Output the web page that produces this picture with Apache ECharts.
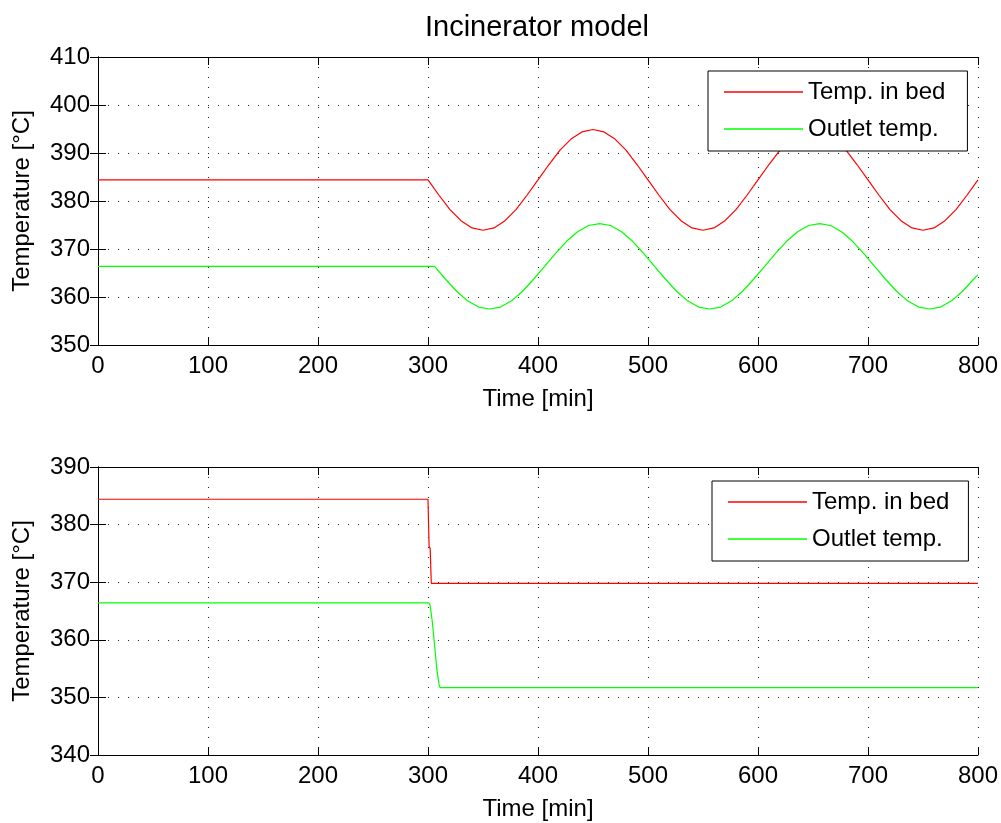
<!DOCTYPE html>
<html>
<head>
<meta charset="utf-8">
<script src="https://cdn.jsdelivr.net/npm/echarts@6/dist/echarts.min.js"></script>
<style>
html,body{margin:0;padding:0;background:#fff;}
#c{width:1001px;height:823px;}
</style>
</head>
<body>
<div id="c"></div>
<script>
// ---- Data ----
const titleText = 'Incinerator model';
const seriesNames = ['Temp. in bed', 'Outlet temp.'];
const xTicks = [0, 100, 200, 300, 400, 500, 600, 700, 800];
const topYTicks = [350, 360, 370, 380, 390, 400, 410];
const bottomYTicks = [340, 350, 360, 370, 380, 390];

// Top plot: temperature in bed
const topBedTime = [0, 300, 310, 320, 330, 340, 350, 360, 370, 380, 390, 400, 410, 420, 430, 440, 450, 460, 470, 480, 490,
  500, 510, 520, 530, 540, 550, 560, 570, 580, 590, 600, 610, 620, 630, 640, 650, 660, 670, 680, 690,
  700, 710, 720, 730, 740, 750, 760, 770, 780, 790, 800];
const topBedTemp = [384.4, 384.4, 381.2, 378.2, 375.9, 374.4, 373.9, 374.4, 375.9, 378.2, 381.2, 384.4, 387.6, 390.6, 392.9, 394.4, 394.9, 394.4, 392.9, 390.6, 387.6,
  384.4, 381.2, 378.2, 375.9, 374.4, 373.9, 374.4, 375.9, 378.2, 381.2, 384.4, 387.6, 390.6, 392.9, 394.4, 394.9, 394.4, 392.9, 390.6, 387.6,
  384.4, 381.2, 378.2, 375.9, 374.4, 373.9, 374.4, 375.9, 378.2, 381.2, 384.4];

// Top plot: outlet temperature
const topOutTime = [0, 306, 316, 326, 336, 346, 356, 366, 376, 386, 396, 406, 416, 426, 436, 446, 456, 466, 476, 486, 496,
  506, 516, 526, 536, 546, 556, 566, 576, 586, 596, 606, 616, 626, 636, 646, 656, 666, 676, 686, 696,
  706, 716, 726, 736, 746, 756, 766, 776, 786, 796, 800];
const topOutTemp = [366.4, 366.4, 363.7, 361.2, 359.2, 357.9, 357.5, 357.9, 359.2, 361.2, 363.7, 366.4, 369.1, 371.6, 373.6, 374.9, 375.3, 374.9, 373.6, 371.6, 369.1,
  366.4, 363.7, 361.2, 359.2, 357.9, 357.5, 357.9, 359.2, 361.2, 363.7, 366.4, 369.1, 371.6, 373.6, 374.9, 375.3, 374.9, 373.6, 371.6, 369.1,
  366.4, 363.7, 361.2, 359.2, 357.9, 357.5, 357.9, 359.2, 361.2, 363.7, 364.6];

// Bottom plot: step response
const botBedTime = [0, 300, 301, 302, 303, 800];
const botBedTemp = [384.4, 384.4, 376.3, 375.8, 369.8, 369.8];
const botOutTime = [0, 301, 302, 304, 306, 308, 310, 311, 800];
const botOutTemp = [366.4, 366.4, 365.9, 363.0, 359.0, 355.0, 352.3, 351.7, 351.7];

// ---- Chart ----
const FONT = 'Liberation Sans, Arial, Helvetica, sans-serif';
const pair = (t, v) => t.map((x, i) => [x, v[i]]);
const gridLine = { show: true, lineStyle: { color: '#222', width: 1, type: [1, 9] } };
const axLine = { show: true, lineStyle: { color: '#000', width: 1 } };

function xMain(gi) {
  return {
    type: 'value', gridIndex: gi, position: 'bottom',
    min: xTicks[0], max: xTicks[xTicks.length - 1], interval: xTicks[1] - xTicks[0],
    name: 'Time [min]', nameLocation: 'middle', nameGap: 42,
    nameTextStyle: { fontFamily: FONT, fontSize: 24, color: '#000' },
    axisLine: axLine,
    axisTick: { show: true, inside: true, length: 8, lineStyle: { color: '#000' } },
    axisLabel: { fontFamily: FONT, fontSize: 24, color: '#000', margin: 9 },
    splitLine: gridLine
  };
}
function xTop(gi) {
  return {
    type: 'value', gridIndex: gi, position: 'top',
    min: xTicks[0], max: xTicks[xTicks.length - 1], interval: xTicks[1] - xTicks[0],
    axisLine: axLine,
    axisTick: { show: true, inside: true, length: 8, lineStyle: { color: '#000' } },
    axisLabel: { show: false }, splitLine: { show: false }
  };
}
function yMain(gi, ticks) {
  return {
    type: 'value', gridIndex: gi, position: 'left',
    min: ticks[0], max: ticks[ticks.length - 1], interval: ticks[1] - ticks[0],
    name: 'Temperature [°C]', nameLocation: 'middle', nameGap: 64, nameRotate: 90,
    nameTextStyle: { fontFamily: FONT, fontSize: 24, color: '#000' },
    axisLine: axLine,
    axisTick: { show: true, inside: true, length: 8, lineStyle: { color: '#000' } },
    axisLabel: { fontFamily: FONT, fontSize: 24, color: '#000', margin: 8 },
    splitLine: gridLine
  };
}
function yRight(gi, ticks) {
  return {
    type: 'value', gridIndex: gi, position: 'right',
    min: ticks[0], max: ticks[ticks.length - 1], interval: ticks[1] - ticks[0],
    axisLine: axLine,
    axisTick: { show: true, inside: true, length: 8, lineStyle: { color: '#000' } },
    axisLabel: { show: false }, splitLine: { show: false }
  };
}
function legendAt(left, top, padRight) {
  return {
    orient: 'vertical', left: left, top: top,
    data: seriesNames,
    icon: 'rect',
    itemWidth: 79, itemHeight: 1.5, itemGap: 13,
    padding: [9, padRight, 10, 16],
    borderColor: '#000', borderWidth: 1, backgroundColor: '#fff',
    textStyle: { fontFamily: FONT, fontSize: 24, color: '#000', lineHeight: 24 },
    selectedMode: false
  };
}
function lineSeries(name, color, xi, yi, data) {
  return {
    name: name, type: 'line', xAxisIndex: xi, yAxisIndex: yi,
    data: data, symbol: 'none', animation: false,
    lineStyle: { color: color, width: 1.2 }, itemStyle: { color: color },
    z: 3
  };
}

const chart = echarts.init(document.getElementById('c'), null, { renderer: 'canvas' });
chart.setOption({
  backgroundColor: '#fff',
  animation: false,
  title: {
    text: titleText, left: 532, top: 8, textAlign: 'center',
    textStyle: { fontFamily: FONT, fontSize: 29, fontWeight: 'normal', color: '#000' }
  },
  grid: [
    { left: 98, top: 57, width: 882, height: 288 },
    { left: 98, top: 467, width: 882, height: 288 }
  ],
  xAxis: [xMain(0), xTop(0), xMain(1), xTop(1)],
  yAxis: [yMain(0, topYTicks), yRight(0, topYTicks), yMain(1, bottomYTicks), yRight(1, bottomYTicks)],
  legend: [legendAt(708, 71, 22), legendAt(712, 481, 19)],
  series: [
    lineSeries(seriesNames[0], '#ff0000', 0, 0, pair(topBedTime, topBedTemp)),
    lineSeries(seriesNames[1], '#00ff00', 0, 0, pair(topOutTime, topOutTemp)),
    lineSeries(seriesNames[0], '#ff0000', 2, 2, pair(botBedTime, botBedTemp)),
    lineSeries(seriesNames[1], '#00ff00', 2, 2, pair(botOutTime, botOutTemp))
  ]
});
</script>
</body>
</html>
